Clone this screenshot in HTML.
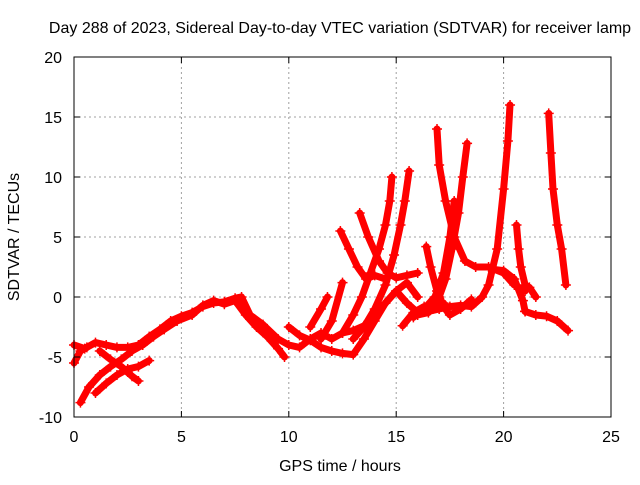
<!DOCTYPE html>
<html><head><meta charset="utf-8"><style>
body{margin:0;background:#fff;width:640px;height:480px;overflow:hidden}
svg text{font-family:"Liberation Sans",sans-serif;font-size:16px;fill:#000}
</style></head><body>
<svg id="chart" width="640" height="480" xmlns="http://www.w3.org/2000/svg">
<text x="340" y="33" text-anchor="middle">Day 288 of 2023, Sidereal Day-to-day VTEC variation (SDTVAR) for receiver lamp</text>
<g id="grid"></g>
<g id="series"></g>
<rect x="74" y="57" width="537" height="360" fill="none" stroke="#000" stroke-width="1"/>
<g id="ticks"></g>
<text x="340" y="471" text-anchor="middle">GPS time / hours</text>
<text transform="translate(19,237) rotate(-90)" text-anchor="middle">SDTVAR / TECUs</text>
</svg>
<script>
const xTicks=[0,5,10,15,20,25];
const yTicks=[-10,-5,0,5,10,15,20];
const trackA=[[0,-4],[0.5,-4.3],[1,-3.8],[1.5,-4],[2,-4.2],[2.5,-4.2],[3,-4],[3.5,-3.3],[4,-2.7],[4.5,-2],[5,-1.6],[5.5,-1.3],[6,-0.8],[6.5,-0.5],[7,-0.4],[7.5,-0.1],[7.8,0],[8.2,-1.5],[8.8,-2.3],[9.5,-3.5],[10,-4],[10.5,-4.2],[11,-3.5],[11.5,-3],[12,-3.5],[12.5,-3],[13,-2.8],[13.5,-2.4],[14,-1.5],[14.5,-0.5],[15,0.5],[15.5,-0.5],[16,-1.3],[16.5,-1.2],[17,-1],[17.5,-0.8],[18,-0.7],[18.5,-0.8],[19,0],[19.3,1],[19.7,4],[20,9],[20.2,13],[20.3,16]];
const trackB=[[0.3,-8.8],[0.7,-7.5],[1.2,-6.5],[1.7,-5.8],[2.2,-5.2],[2.7,-4.5],[3.2,-4],[3.7,-3.3],[4.2,-2.7],[4.8,-2],[5.5,-1.5],[6,-0.7],[6.5,-0.3],[7,-0.6],[7.5,-0.3],[8,-1.5],[8.5,-2.5],[9,-3.3],[9.5,-4.3],[9.8,-5]];
const trackC=[[1,-8],[1.5,-7.2],[2,-6.5],[2.5,-6],[3,-5.8],[3.5,-5.3]];
const trackD=[[1.2,-4.5],[1.7,-5.2],[2.2,-5.8],[2.7,-6.6],[3,-7]];
const trackE=[[0,-5.5],[0.3,-4.5],[0.6,-4.2]];
const trackF=[[10,-2.5],[10.5,-3.2],[11,-3.6],[11.5,-4.2],[12,-4.5],[12.5,-4.7],[13,-4.8],[13.5,-3.5],[14,-2],[14.5,-0.5],[15,0.5],[15.5,1.2],[16,0]];
const trackG=[[11,-2.5],[11.5,-1],[11.8,0]];
const trackH=[[11.5,-3.5],[12,-2],[12.5,1.2]];
const trackI=[[12.4,5.5],[12.8,4],[13.2,2.5],[13.6,1.5],[14,1.8],[14.5,1.5]];
const trackJ=[[13.3,7],[13.7,5],[14.2,3],[14.6,2],[15,1.6],[15.5,1.8],[16,2]];
const trackK=[[14.8,10],[14.7,8],[14.5,6],[14.2,4],[13.8,2],[13.4,0],[13,-1.5],[12.5,-3]];
const trackL=[[15.6,10.5],[15.4,8],[15.2,6],[14.9,3.5],[14.5,1],[14,-1],[13.5,-2.5],[13,-3.5]];
const trackM=[[16.4,4.2],[16.6,2.5],[16.9,0.5],[17.2,-0.8],[17.5,-1.5],[18,-1],[18.5,-0.2]];
const trackN=[[15.3,-2.4],[15.8,-1.3],[16.3,-0.8],[16.7,-1],[17.2,-0.5]];
const trackO=[[16.9,14],[17,11],[17.3,8],[17.7,5],[18.2,3],[18.7,2.5],[19.3,2.5],[20,2],[20.5,1],[21,0.5]];
const trackP=[[18.3,12.8],[18.1,10],[17.9,7],[17.6,4],[17.3,1.5],[17,0],[16.5,-1.3],[16,-1.5]];
const trackQ=[[17.7,8],[17.5,5],[17.2,2],[16.8,0],[16.3,-1],[15.8,-1.7]];
const trackR=[[20.6,6],[20.7,4],[20.8,2.5],[21,1],[21.2,0.8],[21.5,0]];
const trackS=[[22.1,15.3],[22.2,12],[22.3,9],[22.5,6],[22.7,4],[22.9,1]];
const trackT=[[21,-1.2],[21.5,-1.5],[22,-1.6],[22.5,-2],[23,-2.8]];
const trackU=[[19.5,2.3],[20,2.2],[20.5,1.5],[20.9,-0.3],[21,-1.2]];
const tracks=[trackA,trackB,trackC,trackD,trackE,trackF,trackG,trackH,trackI,trackJ,trackK,trackL,trackM,trackN,trackO,trackP,trackQ,trackR,trackS,trackT,trackU];

const NS="http://www.w3.org/2000/svg";
const X0=74,X1=611,Y0=417,Y1=57;
function xs(h){return X0+(h-0)/(25-0)*(X1-X0);}
function ys(v){return Y0-(v+10)/(30)*(Y0-Y1);}
const grid=document.getElementById('grid'),ticks=document.getElementById('ticks'),series=document.getElementById('series');
function mk(tag,attrs,parent){const e=document.createElementNS(NS,tag);for(const k in attrs)e.setAttribute(k,attrs[k]);parent.appendChild(e);return e;}
xTicks.forEach(t=>{
  const x=xs(t);
  if(t>0&&t<25){const g=mk('line',{x1:x,x2:x,y1:Y1,y2:Y0,stroke:'#a0a0a0','stroke-dasharray':'2,3'},grid);
  
  }
  mk('line',{x1:x,x2:x,y1:Y0,y2:Y0-6,stroke:'#000'},ticks);
  mk('line',{x1:x,x2:x,y1:Y1,y2:Y1+6,stroke:'#000'},ticks);
  const tx=mk('text',{x:x,y:Y0+25,'text-anchor':'middle'},ticks);tx.textContent=t;
  
  
});
yTicks.forEach(t=>{
  const y=ys(t);
  if(t>-10&&t<20){const g=mk('line',{x1:X0,x2:X1,y1:y,y2:y,stroke:'#a0a0a0','stroke-dasharray':'2,3'},grid);
  
  }
  mk('line',{x1:X0,x2:X0+6,y1:y,y2:y,stroke:'#000'},ticks);
  mk('line',{x1:X1,x2:X1-6,y1:y,y2:y,stroke:'#000'},ticks);
  const tx=mk('text',{x:X0-12,y:y+6,'text-anchor':'end'},ticks);tx.textContent=t;
  
  
});
tracks.forEach((tr)=>{
  const pts=tr.map(p=>xs(p[0]).toFixed(1)+','+ys(p[1]).toFixed(1)).join(' ');
  const pl=mk('polyline',{points:pts,fill:'none',stroke:'#ff0000','stroke-width':7,'stroke-linejoin':'round','stroke-linecap':'round'},series);
  
  
  tr.forEach(p=>{
    const x=xs(p[0]),y=ys(p[1]);
    const m=mk('path',{d:`M${x-5},${y}H${x+5}M${x},${y-5}V${y+5}`,stroke:'#ff0000','stroke-width':1.5},series);
    
    
  });
});
</script>
</body></html>
